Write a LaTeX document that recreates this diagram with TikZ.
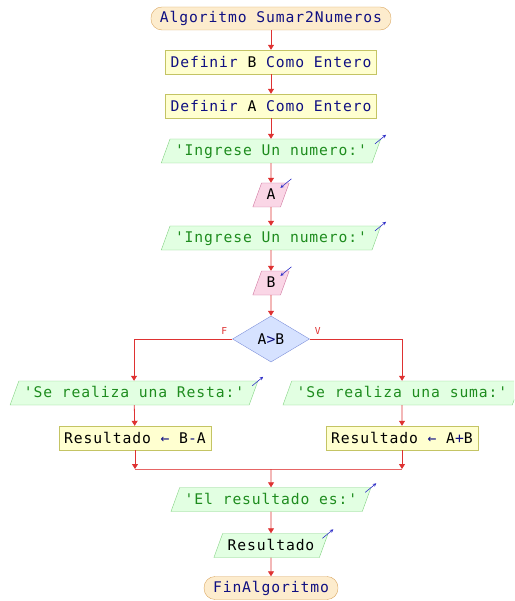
\documentclass[tikz,border=0pt]{standalone}
\usepackage{fontspec}
\usepackage{tikz}
\usepackage{xcolor}
\usetikzlibrary{shapes.geometric,arrows.meta}
\setmonofont[LetterSpace=6]{DejaVu Sans Mono}
\definecolor{kwblue}{RGB}{16,16,130}
\definecolor{strgreen}{RGB}{30,140,30}
\definecolor{flowred}{RGB}{222,50,50}
\definecolor{iconblue}{RGB}{50,50,200}
\definecolor{termfill}{RGB}{253,236,205}
\definecolor{termborder}{RGB}{218,166,96}
\definecolor{procfill}{RGB}{255,255,208}
\definecolor{procborder}{RGB}{196,196,100}
\definecolor{outfill}{RGB}{226,255,226}
\definecolor{outborder}{RGB}{130,210,130}
\definecolor{infill}{RGB}{250,214,230}
\definecolor{inborder}{RGB}{208,118,160}
\definecolor{condfill}{RGB}{214,226,255}
\definecolor{condborder}{RGB}{126,144,218}
\newcommand{\kw}[1]{\textcolor{kwblue}{#1}}
\newcommand{\cad}[1]{\textcolor{strgreen}{#1}}

\begin{document}
\begin{tikzpicture}[x=1pt,y=-1pt,
	every node/.append style={font=\ttfamily\fontsize{14.7}{17}\selectfont},
	terminal/.style={draw=termborder,fill=termfill,rounded corners=11pt,minimum height=23pt,inner xsep=9pt,inner ysep=0pt},
	proc/.style={draw=procborder,fill=procfill,minimum height=24pt,inner xsep=5pt,inner ysep=0pt},
	salida/.style={trapezium,trapezium left angle=70,trapezium right angle=110,draw=outborder,fill=outfill,text height=13.5pt,text depth=4.5pt,inner xsep=5pt,inner ysep=3pt},
	entrada/.style={salida,draw=inborder,fill=infill},
	decision/.style={diamond,draw=condborder,fill=condfill,minimum width=77pt,minimum height=46pt,inner sep=0pt},
	rotulo/.style={text=flowred,font=\ttfamily\fontsize{9.6}{11}\selectfont,inner sep=0pt},
	flujo/.style={draw=flowred,line width=0.8pt,-{Triangle[length=5pt,width=6pt]}},
	linea/.style={draw=flowred!75,line width=0.8pt},
	icono/.style={draw=iconblue,line width=0.6pt,-{Stealth[length=3.5pt,width=3.5pt]}}]
	\useasboundingbox (0,0) rectangle (514,601);
	\clip (0,0) rectangle (514,601);
	% nodos
	\node[terminal] (inicio) at (271,18.5) {\kw{Algoritmo Sumar2Numeros}};
	\node[proc] (defB) at (271,62) {\kw{Definir} B \kw{Como Entero}};
	\node[proc] (defA) at (271,106) {\kw{Definir} A \kw{Como Entero}};
	\node[salida] (msg1) at (271,151) {\cad{'Ingrese Un numero:'}};
	\node[entrada] (leerA) at (271,195) {A};
	\node[salida] (msg2) at (271,238) {\cad{'Ingrese Un numero:'}};
	\node[entrada] (leerB) at (271,283) {B};
	\node[decision] (cond) at (271,339) {A\kw{>}B};
	\node[rotulo,anchor=south east] (lblF) at ([xshift=-5pt,yshift=4pt]cond.west) {F};
	\node[rotulo,anchor=south west] (lblV) at ([xshift=5pt,yshift=4pt]cond.east) {V};
	\node[salida] (msgResta) at (134,393) {\cad{'Se realiza una Resta:'}};
	\node[salida] (msgSuma) at (402,393) {\cad{'Se realiza una suma:'}};
	\node[proc] (resta) at (135,438) {Resultado \kw{←} B\kw{-}A};
	\node[proc] (suma) at (402,438) {Resultado \kw{←} A\kw{+}B};
	\coordinate (juntaI) at (135,469);
	\coordinate (juntaD) at (402,469);
	\coordinate (junta) at (271,469);
	\node[salida] (msgRes) at (271,499.5) {\cad{'El resultado es:'}};
	\node[salida] (verRes) at (271,545.5) {Resultado};
	\node[terminal] (fin) at (271,588) {\kw{FinAlgoritmo}};
	% conectores
	\draw[flujo] (inicio) -- (defB);
	\draw[flujo] (defB) -- (defA);
	\draw[flujo] (defA) -- (msg1);
	\draw[flujo] (msg1) -- (leerA);
	\draw[flujo] (leerA) -- (msg2);
	\draw[flujo] (msg2) -- (leerB);
	\draw[flujo] (leerB) -- (cond);
	\draw[flujo] (cond.west) -| (msgResta.north);
	\draw[flujo] (cond.east) -| (msgSuma.north);
	\draw[flujo] (msgResta) -- (resta);
	\draw[flujo] (msgSuma) -- (suma);
	\draw[flujo] (resta) -- (juntaI);
	\draw[flujo] (suma) -- (juntaD);
	\draw[linea] (juntaI) -- (juntaD);
	\draw[flujo] (junta) -- (msgRes);
	\draw[flujo] (msgRes) -- (verRes);
	\draw[flujo] (verRes) -- (fin);
	% iconos de entrada/salida
	\foreach \n in {msg1,msg2,msgResta,msgSuma,msgRes,verRes}
		\draw[icono] ([shift={(-6pt,-5pt)}]\n.top right corner) -- ++(11pt,9pt);
	\foreach \n in {leerA,leerB}
		\draw[icono] ([shift={(2pt,4pt)}]\n.top right corner) -- ++(-11pt,-9pt);
\end{tikzpicture}
\end{document}
